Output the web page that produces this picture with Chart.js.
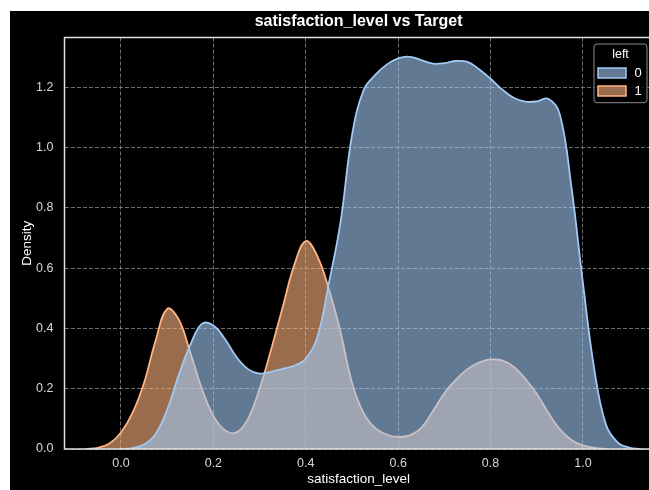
<!DOCTYPE html>
<html lang="en">
<head>
<meta charset="UTF-8">
<title>satisfaction_level vs Target</title>
<script src="https://cdn.jsdelivr.net/npm/chart.js"></script>
<style>
    html, body { margin: 0; padding: 0; background: #fff; overflow: hidden; }
    #wrap { position: absolute; left: 10px; top: 11px; width: 660px; height: 479px; background: #000; }
</style>
</head>
<body>
<div id="wrap"><canvas id="kde" width="660" height="479"></canvas></div>
<script>
// hue levels of "left"
const hueLevels = ['0', '1'];

// KDE of satisfaction_level, left = 0
const gridStay = [0.0, 0.025, 0.05, 0.075, 0.1, 0.125, 0.15, 0.175, 0.2, 0.225, 0.25, 0.275, 0.3, 0.325, 0.35, 0.375,
    0.4, 0.425, 0.45, 0.475, 0.5, 0.525, 0.55, 0.575, 0.6, 0.625, 0.65, 0.675, 0.7, 0.725, 0.75, 0.775,
    0.8, 0.825, 0.85, 0.875, 0.9, 0.925, 0.95, 0.975, 1.0, 1.025, 1.05, 1.075, 1.1, 1.125];
const densityStay = [0.0, 0.003, 0.015, 0.05, 0.13, 0.245, 0.345, 0.415, 0.41, 0.365, 0.305, 0.265, 0.25, 0.256, 0.266, 0.276,
    0.3, 0.37, 0.55, 0.75, 1.04, 1.19, 1.24, 1.275, 1.296, 1.301, 1.29, 1.278, 1.28, 1.287, 1.284, 1.26,
    1.228, 1.193, 1.165, 1.152, 1.153, 1.162, 1.11, 0.87, 0.55, 0.26, 0.08, 0.022, 0.005, 0.0];

// KDE of satisfaction_level, left = 1
const gridLeft = [-0.075, -0.05, -0.025, 0.0, 0.025, 0.05, 0.075, 0.1, 0.125, 0.15, 0.175, 0.2, 0.225, 0.25, 0.275, 0.3,
    0.325, 0.35, 0.375, 0.4, 0.425, 0.45, 0.475, 0.5, 0.525, 0.55, 0.575, 0.6, 0.625, 0.65, 0.675, 0.7,
    0.725, 0.75, 0.775, 0.8, 0.825, 0.85, 0.875, 0.9, 0.925, 0.95, 0.975, 1.0, 1.025, 1.05];
const densityLeft = [0.0, 0.004, 0.018, 0.055, 0.12, 0.22, 0.36, 0.465, 0.43, 0.32, 0.2, 0.11, 0.062, 0.055, 0.1, 0.2,
    0.33, 0.47, 0.61, 0.69, 0.64, 0.53, 0.39, 0.22, 0.12, 0.07, 0.048, 0.04, 0.045, 0.07, 0.125, 0.185,
    0.23, 0.265, 0.287, 0.297, 0.294, 0.273, 0.233, 0.183, 0.12, 0.065, 0.03, 0.012, 0.004, 0.0];

const xTicks = [0.0, 0.2, 0.4, 0.6, 0.8, 1.0];
const yTicks = [0.0, 0.2, 0.4, 0.6, 0.8, 1.0, 1.2];

const lineColors = ['#a1c9f4', '#ffb482'];
const fillColors = ['rgba(161, 201, 244, 0.6)', 'rgba(255, 180, 130, 0.6)'];

Chart.defaults.font.family = "'Liberation Sans', Arial, sans-serif";

// matplotlib-like frame (left/top/bottom spines) and the boxed legend inside the axes
const frameAndLegend = {
    id: 'frameAndLegend',
    afterDatasetsDraw(chart) {
        const {ctx, chartArea: a} = chart;
        ctx.save();
        ctx.strokeStyle = '#e4e4e4';
        ctx.lineWidth = 1.5;
        ctx.beginPath();
        ctx.moveTo(a.right + 30, a.top);
        ctx.lineTo(a.left, a.top);
        ctx.lineTo(a.left, a.bottom);
        ctx.lineTo(a.right + 30, a.bottom);
        ctx.stroke();

        const bx = a.right - 58.7, by = a.top + 6.5, bw = 53, bh = 58.7;
        ctx.fillStyle = 'rgba(0, 0, 0, 0.8)';
        ctx.strokeStyle = '#8c8c8c';
        ctx.lineWidth = 1;
        ctx.beginPath();
        ctx.roundRect(bx, by, bw, bh, 3);
        ctx.fill();
        ctx.stroke();

        ctx.fillStyle = '#ffffff';
        ctx.font = "12.5px 'Liberation Sans', Arial, sans-serif";
        ctx.textAlign = 'center';
        ctx.textBaseline = 'middle';
        ctx.fillText('left', bx + bw / 2, by + 11);

        ctx.font = "13px 'Liberation Sans', Arial, sans-serif";
        hueLevels.forEach((lvl, i) => {
            const sy = by + 24 + i * 18;
            ctx.fillStyle = '#000';
            ctx.fillRect(bx + 4, sy, 28, 10);
            ctx.fillStyle = fillColors[i];
            ctx.fillRect(bx + 4, sy, 28, 10);
            ctx.strokeStyle = lineColors[i];
            ctx.lineWidth = 1.5;
            ctx.strokeRect(bx + 4, sy, 28, 10);
            ctx.fillStyle = '#ffffff';
            ctx.fillText(lvl, bx + 44, sy + 5.5);
        });
        ctx.restore();
    }
};

const datasets = [
    { label: hueLevels[0], data: gridStay.map((x, i) => ({x: x, y: densityStay[i]})) },
    { label: hueLevels[1], data: gridLeft.map((x, i) => ({x: x, y: densityLeft[i]})) }
].map((d, i) => Object.assign(d, {
    borderColor: lineColors[i],
    backgroundColor: fillColors[i],
    borderWidth: 1.8,
    fill: 'origin',
    pointRadius: 0,
    tension: 0.4
}));

new Chart(document.getElementById('kde'), {
    type: 'line',
    data: { datasets: datasets },
    plugins: [frameAndLegend],
    options: {
        responsive: false,
        animation: false,
        layout: { padding: { left: 0, right: 17.3, top: 0, bottom: 0 } },
        plugins: {
            legend: { display: false },
            tooltip: { enabled: false },
            title: {
                display: true,
                text: 'satisfaction_level vs Target',
                color: '#ffffff',
                fullSize: false,
                font: { size: 16, weight: 'bold' },
                padding: { top: 1.4, bottom: 5.9 }
            }
        },
        scales: {
            x: {
                type: 'linear',
                min: -0.1223,
                max: 1.151,
                afterBuildTicks: (scale) => { scale.ticks = xTicks.map(v => ({value: v})); },
                afterFit: (scale) => { scale.height = 41; },
                grid: { color: '#7a7a7a', lineWidth: 0.9, drawTicks: false },
                border: { display: false, dash: [4, 2] },
                ticks: {
                    color: '#d8d8d8',
                    font: { size: 12.5 },
                    padding: 7,
                    maxRotation: 0,
                    callback: (v) => v.toFixed(1)
                },
                title: {
                    display: true,
                    text: 'satisfaction_level',
                    color: '#ffffff',
                    font: { size: 13.5 },
                    padding: { top: 0, bottom: 2.2 }
                }
            },
            y: {
                min: 0,
                max: 1.365,
                afterBuildTicks: (scale) => { scale.ticks = yTicks.map(v => ({value: v})); },
                afterFit: (scale) => { scale.width = 54.5; },
                grid: { color: '#7a7a7a', lineWidth: 0.9, drawTicks: false },
                border: { display: false, dash: [4, 2] },
                ticks: {
                    color: '#d8d8d8',
                    font: { size: 12.5 },
                    padding: 11,
                    callback: (v) => v.toFixed(1)
                },
                title: {
                    display: true,
                    text: 'Density',
                    color: '#ffffff',
                    font: { size: 13.5 },
                    padding: { top: 9.2, bottom: 0 }
                }
            }
        }
    }
});
</script>
</body>
</html>
